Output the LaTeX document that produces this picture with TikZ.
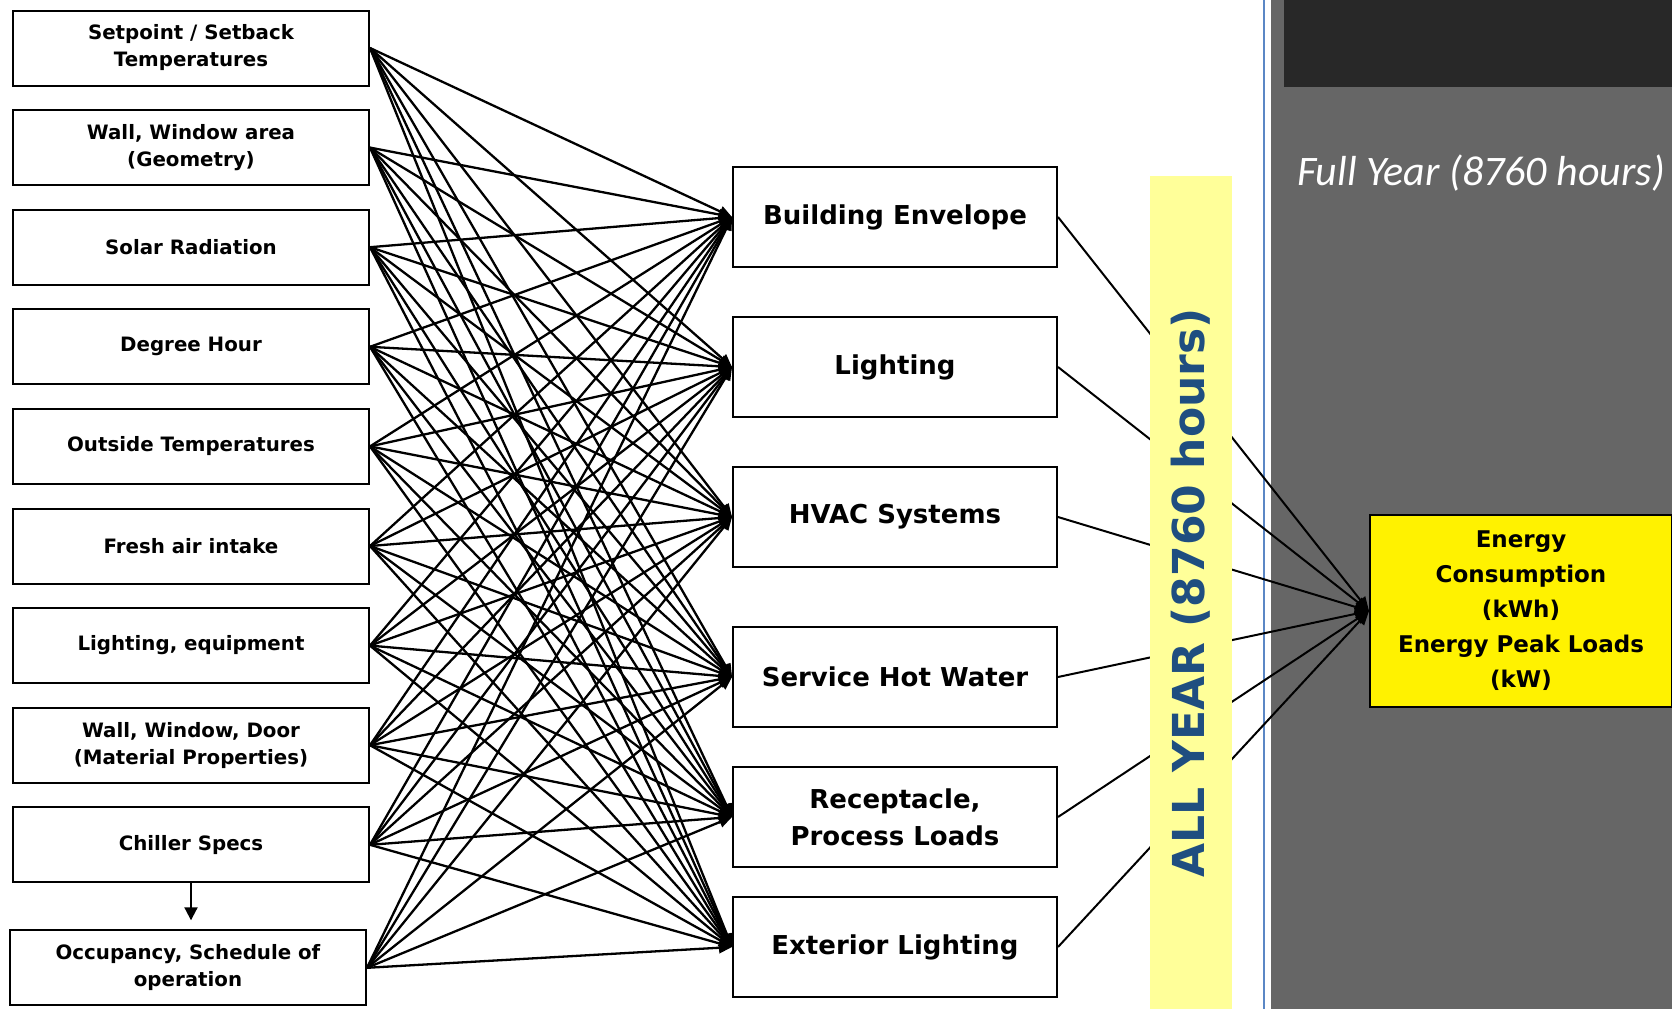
\documentclass[tikz,border=0pt]{standalone}
\usepackage{fontspec}
\setmainfont{DejaVu Sans}
\newfontfamily\calfont{Carlito}
\usetikzlibrary{arrows.meta,positioning}
\definecolor{panelgray}{HTML}{666666}
\definecolor{bargray}{HTML}{282828}
\definecolor{paleyellow}{HTML}{FFFF99}
\definecolor{yearblue}{HTML}{1F4E80}
\definecolor{rulerblue}{HTML}{5B87C5}
\tikzstyle{box}=[rectangle,draw,line width=2pt,align=center]
\tikzstyle{input}=[box,minimum width=356pt,minimum height=75pt,font=\fontsize{19.8}{27}\selectfont\bfseries]
\tikzstyle{load}=[box,minimum width=324pt,minimum height=100pt,font=\fontsize{26}{37}\selectfont\bfseries]
\tikzstyle{result}=[box,fill=yellow,minimum width=302pt,minimum height=192pt,font=\fontsize{23}{35}\selectfont\bfseries]
\tikzstyle{feeds}=[-{Triangle[length=13pt,width=11pt]},line width=2.3pt]
\tikzstyle{sums}=[-{Triangle[length=14pt,width=12pt]},line width=2pt]
\begin{document}
\begin{tikzpicture}[x=1pt,y=-1pt]

\useasboundingbox (0,0) rectangle (1672,1009);
\fill [white] (0,0) rectangle (1672,1009);
\fill [panelgray] (1271,0) rectangle (1672,1009);
\fill [bargray] (1284,0) rectangle (1672,87);
\draw [rulerblue,line width=1.5pt] (1264,0) -- (1264,1009);
\node (fullyear) [anchor=base west,inner sep=0,text=white,font=\calfont\itshape\fontsize{42}{42}\selectfont] at (1297,185) {Full Year (8760 hours)};

% inputs
\node (setpoint) [input] at (191,48) {Setpoint / Setback\\Temperatures};
\node (geometry) [input,below=22.6pt of setpoint] {Wall, Window area\\(Geometry)};
\node (solar) [input,below=22.6pt of geometry] {Solar Radiation};
\node (degree) [input,below=22.6pt of solar] {Degree Hour};
\node (outside) [input,below=22.6pt of degree] {Outside Temperatures};
\node (fresh) [input,below=22.6pt of outside] {Fresh air intake};
\node (equip) [input,below=22.6pt of fresh] {Lighting, equipment};
\node (material) [input,below=22.6pt of equip] {Wall, Window, Door\\(Material Properties)};
\node (chiller) [input,below=22.6pt of material] {Chiller Specs};
\node (occupancy) [input,below=46pt of chiller,xshift=-3pt] {Occupancy, Schedule of\\operation};

\draw [-{Triangle[length=13pt,width=13pt]},line width=2pt,shorten >=9pt] (chiller.south) -- (chiller.south |- occupancy.north) ;

% loads
\node (envelope) [load] at (895,217) {Building Envelope};
\node (lighting) [load,below=48pt of envelope] {Lighting};
\node (hvac) [load,below=48pt of lighting] {HVAC Systems};
\node (water) [load,below=58pt of hvac] {Service Hot Water};
\node (process) [load,below=38pt of water] {Receptacle,\\Process Loads};
\node (exterior) [load,below=28pt of process] {Exterior Lighting};

\node (energy) [result] at (1521,611) {Energy\\Consumption\\(kWh)\\Energy Peak Loads\\(kW)};

\foreach \src in {setpoint,geometry,solar,degree,outside,fresh,equip,material,chiller,occupancy}
  \foreach \dst in {envelope,lighting,hvac,water,process,exterior}
    \draw [feeds] (\src.east) -- (\dst.west) ;

\foreach \src in {envelope,lighting,hvac,water,process,exterior}
  \draw [sums] (\src.east) -- (energy.west) ;

% year band over the lines
\fill [paleyellow] (1150,176) rectangle (1232,1009);
\node (allyear) [rotate=90,text=yearblue,font=\fontsize{44}{44}\selectfont\bfseries] at (1191,593) {ALL YEAR (8760 hours)};

\end{tikzpicture}
\end{document}
